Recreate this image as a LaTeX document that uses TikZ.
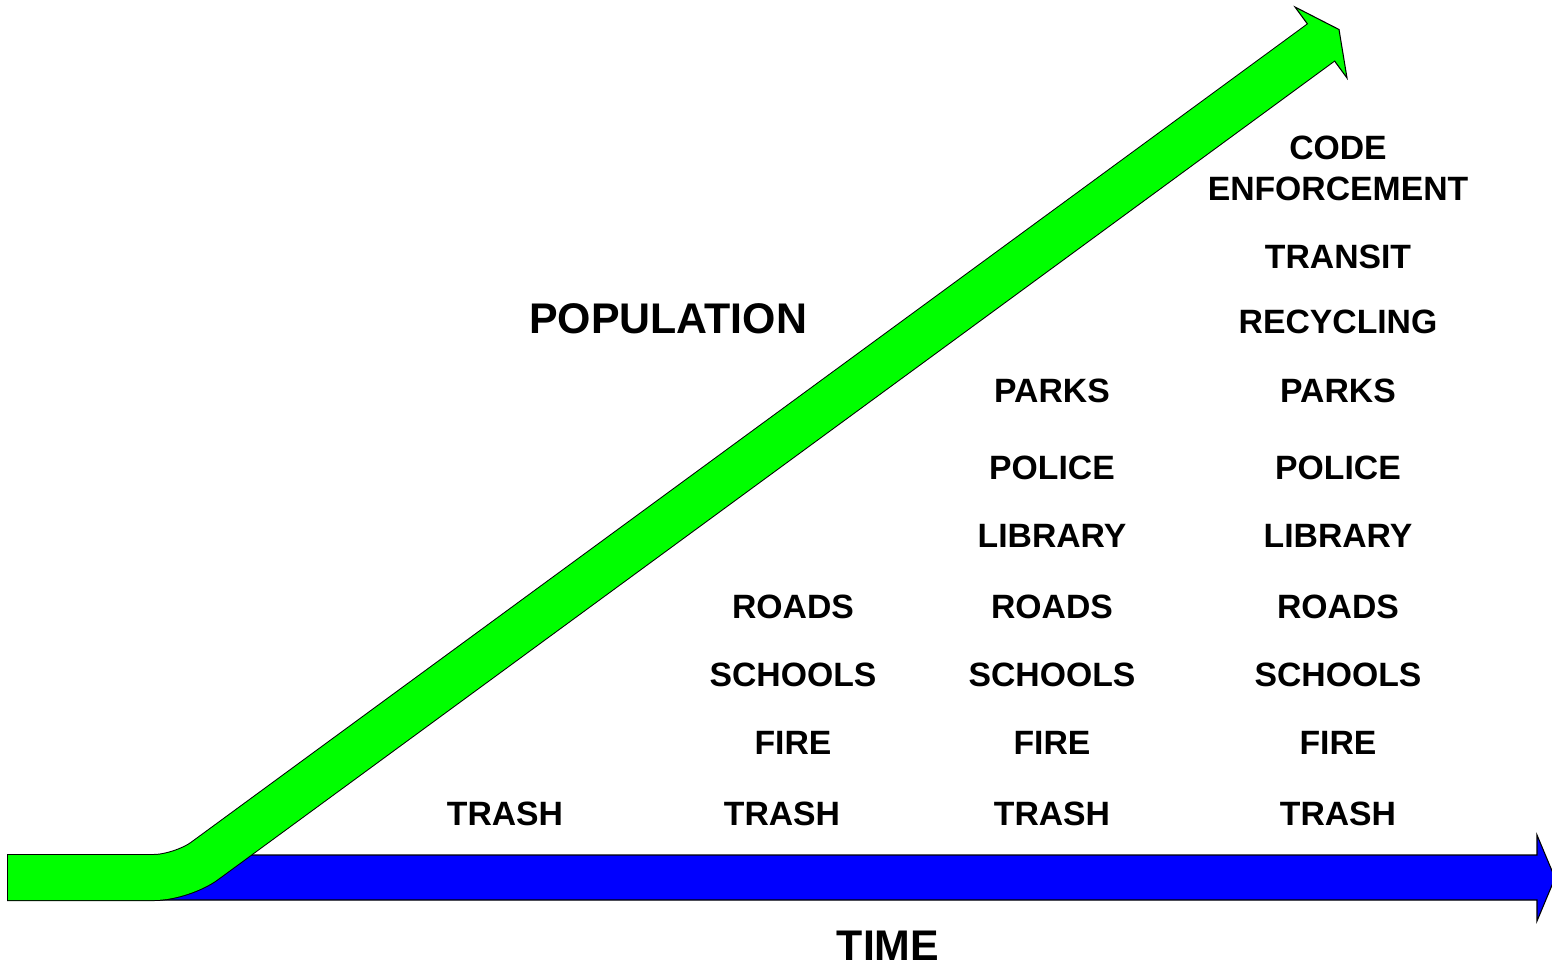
\documentclass[tikz,border=0pt]{standalone}
\usepackage{fontspec}
\setmainfont{Liberation Sans}
\definecolor{arrgreen}{RGB}{0,255,0}
\definecolor{arrblue}{RGB}{0,0,255}
\begin{document}
\begin{tikzpicture}[x=0.02cm,y=-0.02cm,
  item/.style={anchor=base,inner sep=0pt,font=\fontsize{19.2}{23}\selectfont\bfseries},
  bigtitle/.style={anchor=base,inner sep=0pt,font=\fontsize{24.4}{29}\selectfont\bfseries},
  outline/.style={draw=black,line width=0.6pt,line join=miter}]
\useasboundingbox (0,0) rectangle (1552,967);
% key points
\coordinate (gstart) at (8,877.5);
\coordinate (gbend) at (182,877.5);
\coordinate (gbase) at (1321,42.5);
\coordinate (gbasein) at (1323.4,40.7);
\coordinate (gw1) at (1295,7);
\coordinate (gtip) at (1339,29.5);
\coordinate (gw2) at (1347,78);
% blue time arrow
\filldraw[fill=arrblue,outline] (150,855) -- (1537,855) -- (1537,835) -- (1555,878) -- (1537,921) -- (1537,900) -- (150,900) -- cycle;
% green population arrow
\draw[black,line width=0.94cm,rounded corners=0.56cm] (7,877.5) -- (gbend) -- (gbase);
\filldraw[fill=arrgreen,outline] (gw1) -- (gtip) -- (gw2) -- cycle;
\draw[arrgreen,line width=0.9cm,rounded corners=0.56cm] (gstart) -- (gbend) -- (gbasein);
% titles
\node[bigtitle] (pop) at (668,333) {POPULATION};
\node[bigtitle] (time) at (888,960) {TIME};
% column 1
\node[item] (c1trash) at (505,825) {TRASH};
% column 2
\node[item] (c2trash) at (782,825) {TRASH};
\node[item] (c2fire) at (793,754) {FIRE};
\node[item] (c2schools) at (793,686) {SCHOOLS};
\node[item] (c2roads) at (793,618) {ROADS};
% column 3
\node[item] (c3trash) at (1052,825) {TRASH};
\node[item] (c3fire) at (1052,754) {FIRE};
\node[item] (c3schools) at (1052,686) {SCHOOLS};
\node[item] (c3roads) at (1052,618) {ROADS};
\node[item] (c3library) at (1052,547) {LIBRARY};
\node[item] (c3police) at (1052,479) {POLICE};
\node[item] (c3parks) at (1052,402) {PARKS};
% column 4
\node[item] (c4trash) at (1338,825) {TRASH};
\node[item] (c4fire) at (1338,754) {FIRE};
\node[item] (c4schools) at (1338,686) {SCHOOLS};
\node[item] (c4roads) at (1338,618) {ROADS};
\node[item] (c4library) at (1338,547) {LIBRARY};
\node[item] (c4police) at (1338,479) {POLICE};
\node[item] (c4parks) at (1338,402) {PARKS};
\node[item] (c4recycling) at (1338,333) {RECYCLING};
\node[item] (c4transit) at (1338,268) {TRANSIT};
\node[item] (c4enforce) at (1338,200) {ENFORCEMENT};
\node[item] (c4code) at (1338,159) {CODE};
\end{tikzpicture}
\end{document}
